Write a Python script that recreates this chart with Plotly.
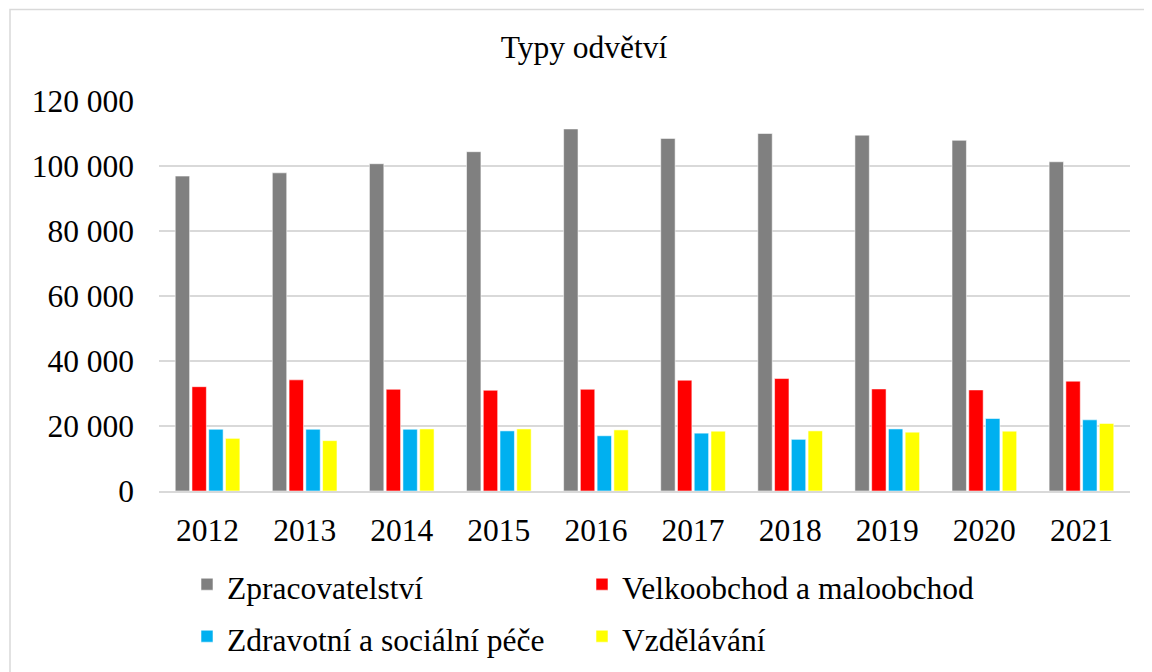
import plotly.graph_objects as go

years = ["2012", "2013", "2014", "2015", "2016", "2017", "2018", "2019", "2020", "2021"]
zpracovatelstvi = [96900, 97900, 100700, 104400, 111400, 108500, 110000, 109500, 107900, 101300]
velkoobchod = [32100, 34200, 31300, 31000, 31300, 34100, 34600, 31400, 31100, 33800]
zdravotni = [19000, 19000, 19000, 18500, 17000, 17800, 15900, 19100, 22300, 21900]
vzdelavani = [16200, 15500, 19100, 19100, 18800, 18400, 18500, 18100, 18400, 20800]

series_names = ["Zpracovatelství", "Velkoobchod a maloobchod",
                "Zdravotní a sociální péče", "Vzdělávání"]
series_values = [zpracovatelstvi, velkoobchod, zdravotni, vzdelavani]
colors = ["#808080", "#FF0000", "#00B0F0", "#FFFF00"]

y_tickvals = [0, 20000, 40000, 60000, 80000, 100000, 120000]
y_ticktext = ["0", "20 000", "40 000", "60 000", "80 000", "100 000", "120 000"]

FONT = "Liberation Serif, Times New Roman, serif"
FS = 31.5
LFS = 31.5

W, H = 1152, 672
L, R, T, B = 151, 30, 93, 187
PW, PH = W - L - R, H - T - B

fig = go.Figure()
for name, vals, col in zip(series_names, series_values, colors):
    fig.add_trace(go.Bar(
        x=years, y=vals,
        name='<span style="font-size:%spx">%s</span>' % (LFS, name),
        hovertext=[name] * len(years),
        marker=dict(color=col, line=dict(width=1, color="rgba(255,255,255,0.55)")),
    ))

fig.update_layout(
    width=W, height=H,
    margin=dict(l=L, r=R, t=T, b=B),
    paper_bgcolor="white", plot_bgcolor="white",
    font=dict(family=FONT, size=FS, color="black"),
    barmode="group", bargap=0.31, bargroupgap=0.14,
    title=dict(text="Typy odvětví", x=0.5, xanchor="center",
               y=1 - 39 / H, yanchor="middle",
               font=dict(family=FONT, size=FS, color="black")),
    xaxis=dict(showgrid=False, showline=True, linecolor="#D9D9D9", linewidth=1.5,
               ticks="", ticklabelstandoff=10,
               tickfont=dict(family=FONT, size=FS, color="black")),
    yaxis=dict(range=[0, 120000], tickvals=y_tickvals, ticktext=y_ticktext,
               showgrid=True, gridcolor="#D9D9D9", gridwidth=1.5,
               zeroline=False, showline=False, ticks="", ticklabelstandoff=24,
               tickfont=dict(family=FONT, size=FS, color="black")),
    legend=dict(orientation="h", x=(179 - L) / PW, xanchor="left",
                y=(PH - (547.5 - T)) / PH, yanchor="top",
                entrywidth=350, entrywidthmode="pixels",
                font=dict(family=FONT, size=37.7, color="black"),
                traceorder="normal", itemwidth=30),
    shapes=[dict(type="rect", xref="paper", yref="paper",
                 x0=(2 - L) / PW, x1=(1160 - L) / PW,
                 y0=(PH + T - 690) / PH, y1=(PH + T - 1) / PH,
                 line=dict(color="#D9D9D9", width=1.5), fillcolor="rgba(0,0,0,0)",
                 layer="below")],
)

fig.write_html("out.html")
